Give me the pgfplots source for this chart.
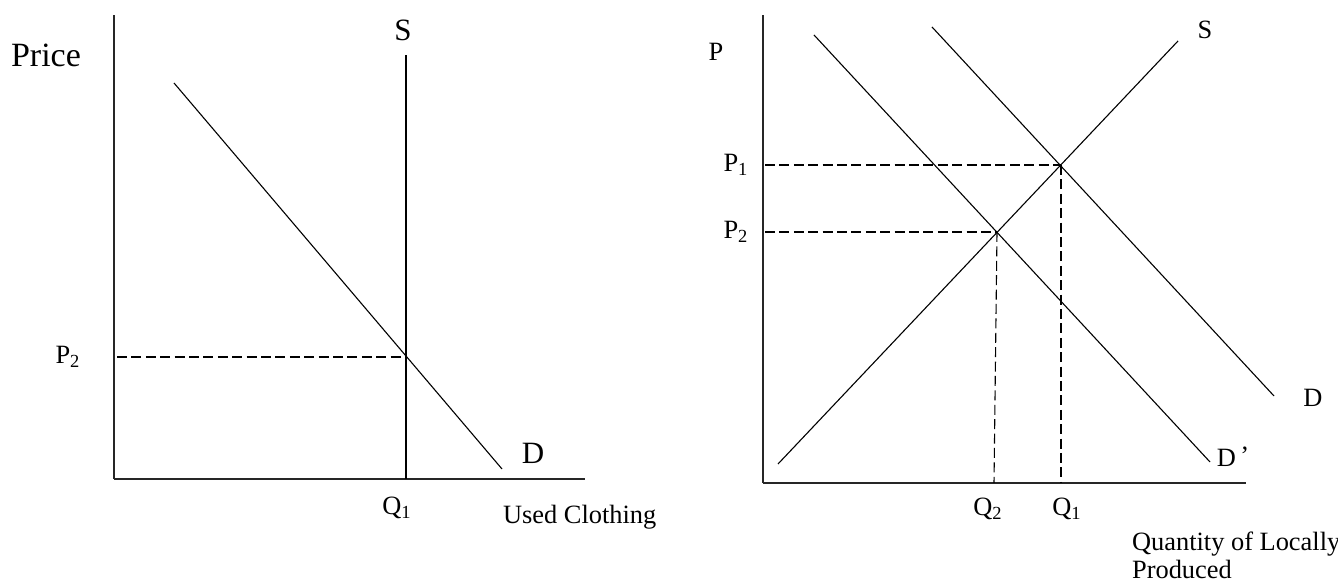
\documentclass[border=0pt]{standalone}
\usepackage{fontspec}
\setmainfont{Liberation Serif}
\usepackage{pgfplots}
\pgfplotsset{compat=1.18}

% 1 px of the reference = 0.5pt
\pgfplotsset{
  econ/.style={
    scale only axis,
    axis lines=left,
    axis line style={-, line width=0.6pt, black!85},
    xtick=\empty, ytick=\empty,
    clip=false,
    anchor=south west,
  },
}
\tikzset{
  curve/.style={black, line width=0.55pt},
  guide/.style={black, line width=0.55pt, dash pattern=on 5pt off 2.2pt},
  lab/.style={font=\fontsize{13.2}{15}\selectfont},
}

\begin{document}
\begin{tikzpicture}
\useasboundingbox (0,0) rectangle (669pt,290.5pt);

% ---- left: used clothing ----
\begin{axis}[econ,
    at={(57pt,51pt)},
    xmin=0, xmax=471, ymin=0, ymax=464,
    width=235.5pt, height=232pt]
\addplot[curve] coordinates {(292,0) (292,424)};
\addplot[curve] coordinates {(60,396) (388,10)};
\addplot[guide] coordinates {(3,122) (292,122)};
\node[font=\fontsize{17}{19}\selectfont] at (axis cs:-68,424) {Price};
\node[font=\fontsize{15.5}{17}\selectfont] at (axis cs:289,449) {S};
\node[font=\fontsize{15.5}{17}\selectfont] at (axis cs:419,26) {D};
\node[lab] at (axis cs:-46,122) {P\textsubscript{2}};
\node[lab] at (axis cs:283,-29) {Q\textsubscript{1}};
\node[lab, anchor=west] at (axis cs:382,-38) {Used Clothing};
\end{axis}

% ---- right: locally produced ----
\begin{axis}[econ,
    at={(381.5pt,49pt)},
    xmin=0, xmax=483, ymin=0, ymax=468,
    width=241.5pt, height=234pt]
\addplot[curve] coordinates {(15,19) (415,442)};
\addplot[curve] coordinates {(51,448) (447,21)};
\addplot[curve] coordinates {(169,456) (511,87)};
\addplot[guide] coordinates {(2,318) (298,318)};
\addplot[guide] coordinates {(2,251) (234,251)};
\addplot[guide] coordinates {(298,318) (298,0)};
\addplot[guide] coordinates {(234,251) (231,0)};
\node[lab] at (axis cs:-47,431) {P};
\node[lab] at (axis cs:442,453) {S};
\node[lab] at (axis cs:550,85) {D};
\node[lab] at (axis cs:470,26) {D\,\raisebox{0.15ex}{'}};
\node[lab] at (axis cs:-27,318) {P\textsubscript{1}};
\node[lab] at (axis cs:-27,251) {P\textsubscript{2}};
\node[lab] at (axis cs:225,-26) {Q\textsubscript{2}};
\node[lab] at (axis cs:304,-26) {Q\textsubscript{1}};
\node[lab, anchor=west] at (axis cs:362,-61) {Quantity of Locally};
\node[lab, anchor=west] at (axis cs:362,-86) {Produced};
\end{axis}
\end{tikzpicture}
\end{document}
